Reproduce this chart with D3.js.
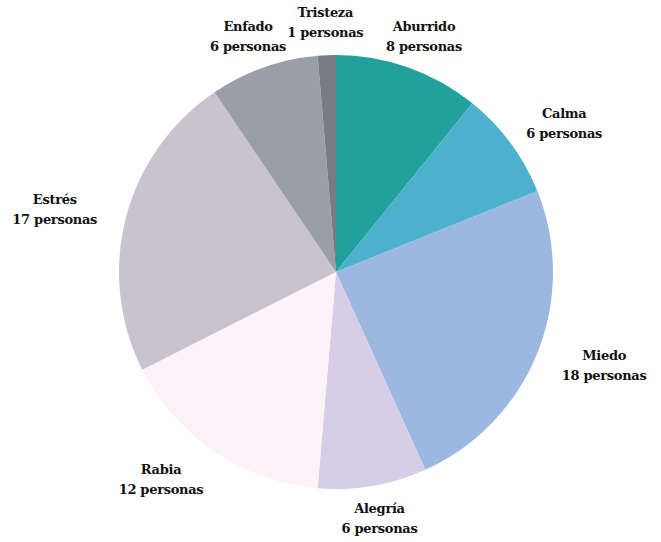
<!DOCTYPE html>
<html>
<head>
<meta charset="utf-8">
<script src="https://cdn.jsdelivr.net/npm/d3@7"></script>
<style>
  body { margin: 0; background: #fff; }
</style>
</head>
<body>
<div id="container"></div>
<script>
/* CONSTANTS AND GLOBALS */
const width = 661;
const height = 542;
const cx = 336, cy = 272, radius = 217;

/* DATA */
const emotions = ["Aburrido", "Calma", "Miedo", "Alegría", "Rabia", "Estrés", "Enfado", "Tristeza"];
const counts = [8, 6, 18, 6, 12, 17, 6, 1];
const colors = ["#22a09e", "#4cb1cc", "#9cb7e0", "#d6cee6", "#fdf2f7", "#c8c3cd", "#9a9ea8", "#767b84"];

const data = emotions.map((e, i) => ({ emotion: e, count: counts[i] }));

const svg = d3.select("#container")
  .append("svg")
  .attr("width", width)
  .attr("height", height);

const g = svg.append("g")
  .attr("transform", `translate(${cx}, ${cy})`);

const color = d3.scaleOrdinal()
  .domain(emotions)
  .range(colors);

const pie = d3.pie()
  .sort(null)
  .value(d => d.count);

const arc = d3.arc()
  .innerRadius(0)
  .outerRadius(radius);

const arcs = pie(data);

g.selectAll("path")
  .data(arcs)
  .join("path")
  .attr("d", arc)
  .attr("fill", d => color(d.data.emotion));

// labels sit on a slightly wider-than-tall ring outside the pie
const labelPos = d => {
  const a = (d.startAngle + d.endAngle) / 2;
  const s = Math.sin(a), c = Math.cos(a);
  const extra = 42 * Math.abs(s) + 150 * Math.abs(s) * Math.max(0, -c) * Math.max(0, -s);
  return [(250 + extra) * s, -250 * c];
};

const labels = g.selectAll(".label")
  .data(arcs)
  .join("text")
  .attr("class", "label")
  .attr("text-anchor", "middle")
  .attr("font-family", "'DejaVu Serif', serif")
  .attr("font-weight", "bold")
  .attr("font-size", 13)
  .attr("letter-spacing", -0.3)
  .attr("fill", "#111")
  .attr("transform", d => `translate(${labelPos(d)})`);

labels.append("tspan")
  .attr("x", 0)
  .attr("y", -5)
  .text(d => d.data.emotion);

labels.append("tspan")
  .attr("x", 0)
  .attr("y", 15)
  .text(d => `${d.data.count} personas`);
</script>
</body>
</html>
